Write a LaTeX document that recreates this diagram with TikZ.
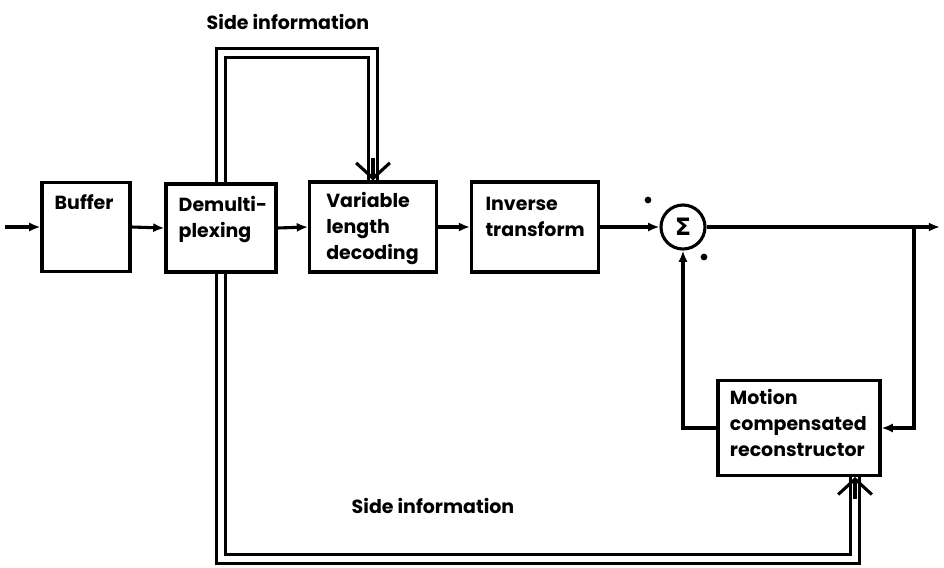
\documentclass[tikz,border=0pt]{standalone}
\usepackage{fontspec}
\setmainfont{Poppins}
\newfontfamily\symfont{DejaVu Sans}
\usetikzlibrary{arrows.meta}
\tikzstyle{block}=[draw, line width=2.2pt, rectangle, inner sep=0pt]
\tikzstyle{blocktext}=[anchor=north west, align=left, inner sep=0pt, font=\fontsize{13.5}{18.5}\selectfont\bfseries]
\tikzstyle{signal}=[line width=2.2pt, -{Latex[length=8pt,width=6.5pt]}]
\tikzstyle{side}=[line width=2pt, double, double distance=4.2pt]
\tikzstyle{sidehead}=[line width=2.2pt, -{Straight Barb[length=11pt,width=24pt]}]

\begin{document}
\begin{tikzpicture}[x=0.025cm, y=-0.025cm]
				\useasboundingbox (0,0) rectangle (944,567);

				% blocks
				\node[block, minimum width=2.2cm, minimum height=2.22cm] (buf) at (86,227) {};
				\node[block, minimum width=2.75cm, minimum height=2.2cm] (demux) at (221,228) {};
				\node[block, minimum width=3.17cm, minimum height=2.25cm] (vld) at (373,227) {};
				\node[block, minimum width=3.17cm, minimum height=2.25cm] (inv) at (535,227) {};
				\node[draw, line width=2.2pt, circle, minimum size=1.1cm, inner sep=0pt, font=\symfont\bfseries\fontsize{17}{17}\selectfont] (sum) at (683,227) {Σ};
				\node[block, minimum width=4.05cm, minimum height=2.37cm] (mc) at (799,428) {};

				\node[blocktext] at ([shift={(0.35cm,-0.33cm)}]buf.north west) {Buffer};
				\node[blocktext] at ([shift={(0.35cm,-0.33cm)}]demux.north west) {Demulti-\\plexing};
				\node[blocktext] at ([shift={(0.45cm,-0.3cm)}]vld.north west) {Variable\\length\\decoding};
				\node[blocktext] at ([shift={(0.38cm,-0.42cm)}]inv.north west) {Inverse\\transform};
				\node[blocktext] at ([shift={(0.33cm,-0.25cm)}]mc.north west) {Motion\\compensated\\reconstructor};

				\node[blocktext, anchor=center] (sitop) at (288,22) {Side information};
				\node[blocktext, anchor=center] (sibot) at (433,506) {Side information};

				% main signal path
				\coordinate (in) at (5,227);
				\coordinate (out) at (940,227);
				\coordinate (br) at (914,227);

				\draw[signal] (in) -- (buf.west);
				\draw[signal] (buf.east) -- (demux.west);
				\draw[signal] (demux.east) -- (vld.west);
				\draw[signal] (vld.east) -- (inv.west);
				\draw[signal] (inv.east) -- (sum.west);
				\draw[signal] (sum.east) -- (out);
				\draw[signal] (br) |- (mc.east);
				\draw[signal] (mc.west) -| (sum.south);

				\fill (648,200) circle [radius=2.4pt];
				\fill (704,257) circle [radius=2.4pt];

				% side information
				\coordinate (sa) at (221,53);
				\coordinate (sb) at (373,53);
				\coordinate (sc) at (221,559);
				\coordinate (sd) at (855,559);

				\draw[side] (demux.north) -- (sa) -- (sb) -- (vld.north);
				\draw[sidehead] ([yshift=16pt]vld.north) -- (vld.north);
				\draw[side] (demux.south) -- (sc) -- (sd) -- (sd |- mc.south);
				\draw[sidehead] ([yshift=-16pt]sd |- mc.south) -- (sd |- mc.south);
\end{tikzpicture}
\end{document}
